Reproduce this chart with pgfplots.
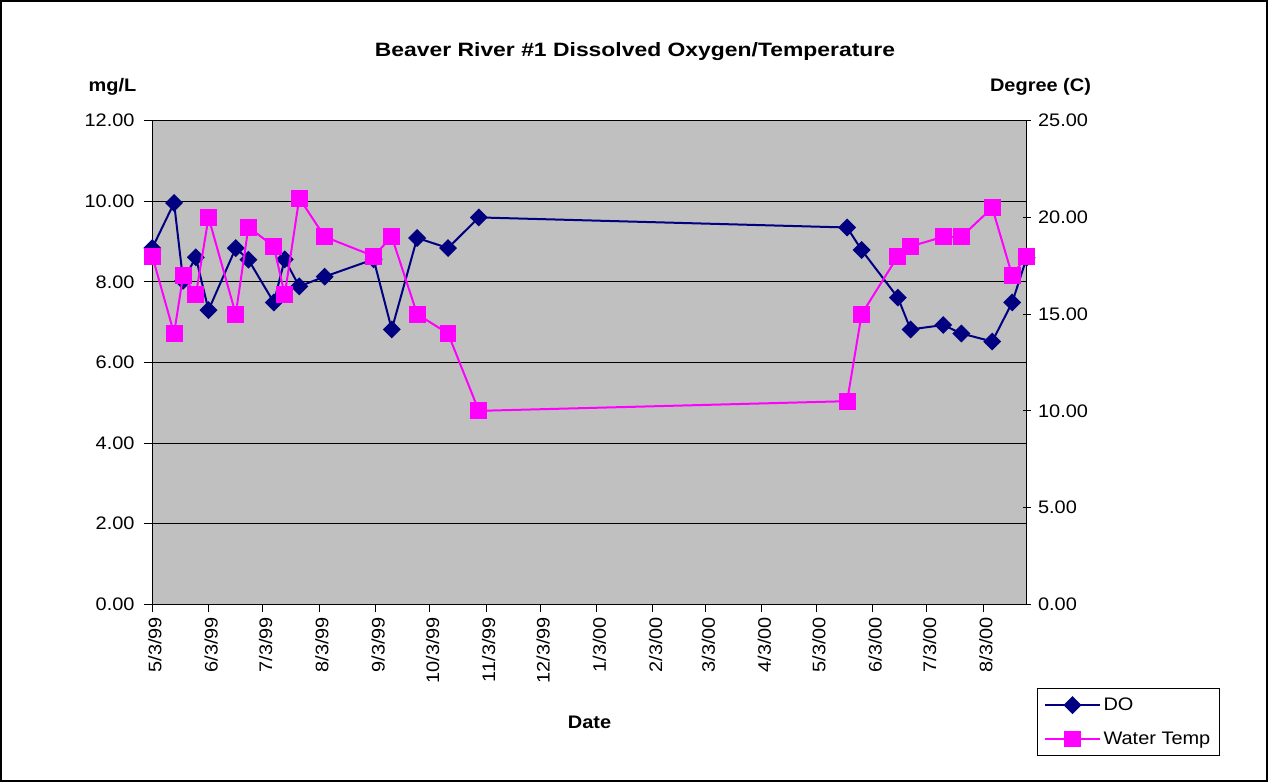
\documentclass[border=0pt]{standalone}
\usepackage{fontspec}
\setmainfont{Liberation Sans}[FakeStretch=1.1]
\usepackage{pgfplots}
\pgfplotsset{compat=1.18}
\definecolor{plotgray}{HTML}{C0C0C0}
\definecolor{donavy}{HTML}{000080}
\definecolor{tmag}{HTML}{FF00FF}
\newcommand{\lblfont}{\fontsize{13.6}{16}\selectfont}

\pgfplotstableread{
day do
0 8.84
12 9.96
17 8.03
24 8.61
31 7.30
46 8.84
53 8.55
67 7.49
73 8.56
81 7.89
95 8.13
122 8.56
132 6.82
146 9.09
163 8.84
180 9.60
383 9.35
391 8.79
411 7.61
418 6.82
436 6.93
446 6.72
463 6.52
474 7.49
482 8.60
}\dotable

\pgfplotstableread{
day temp
0 18
12 14
17 17
24 16
31 20
46 15
53 19.5
67 18.5
73 16
81 21
95 19
122 18
132 19
146 15
163 14
180 10
383 10.5
391 15
411 18
418 18.5
436 19
446 19
463 20.5
474 17
482 18
}\temptable

\pgfplotsset{
  common/.style={
    at={(114.225pt,133.275pt)}, anchor=south west,
    width=655.8pt, height=362.7pt, scale only axis,
    xmin=0, xmax=482,
    clip=false,
    tick label style={font=\lblfont},
    yticklabel style={/pgf/number format/fixed, /pgf/number format/fixed zerofill, /pgf/number format/precision=2, /pgf/number format/assume math mode=true},
    tick style={black, line width=0.75pt},
    major tick length=6pt,
  }
}

\begin{document}
\begin{tikzpicture}[x=0.75pt,y=0.75pt]
\useasboundingbox (0,0) rectangle (1268,782);
\fill[white] (0,0) rectangle (1268,782);
\draw[line width=1.5pt] (1,1) rectangle (1267,781);

\begin{axis}[common,
  ymin=0, ymax=12,
  axis background/.style={fill=plotgray},
  axis line style={black, line width=1pt},
  ytick={0,2,...,12},
  ymajorgrids, major grid style={black, line width=0.75pt},
  xtick={0,31,61,92,123,153,184,214,245,276,305,336,366,397,427,458},
  xticklabels={5/3/99,6/3/99,7/3/99,8/3/99,9/3/99,10/3/99,11/3/99,12/3/99,1/3/00,2/3/00,3/3/00,4/3/00,5/3/00,6/3/00,7/3/00,8/3/00},
  x tick label style={rotate=90, anchor=east, yshift=-2pt},
  y tick label style={xshift=-3.8pt},
  xtick pos=bottom, ytick pos=left,
  tick align=outside,
]
\addplot[donavy, line width=1.5pt, mark=square*, mark size=4pt, mark options={rotate=45, solid}] table[x=day, y=do] {\dotable};
\end{axis}

\begin{axis}[common,
  ymin=0, ymax=25,
  axis x line=none,
  axis y line*=right,
  axis line style={black, line width=1pt},
  ytick={0,5,...,25},
  y tick label style={xshift=2pt},
  tick align=center,
  legend style={at={(1.0118,-0.173)}, anchor=north west, draw=black, line width=0.75pt, font=\lblfont, fill=white, inner xsep=5pt, inner ysep=5pt, row sep=10.5pt},
  legend cell align=left,
  legend image code/.code={\draw[mark repeat=2, mark phase=2, #1] plot coordinates {(0pt,0pt) (20.5pt,0pt) (41pt,0pt)};},
]
\addlegendimage{donavy, line width=1.5pt, mark=square*, mark size=4pt, mark options={rotate=45, solid}}
\addlegendentry{DO}
\addplot[tmag, line width=1.5pt, mark=square*, mark size=5.6pt, mark options={solid}] table[x=day, y=temp] {\temptable};
\addlegendentry{Water Temp}
\end{axis}

\node[font=\fontsize{14.5}{17}\selectfont\bfseries] at (635,730) {\scalebox{1.077}[1]{Beaver River \#1 Dissolved Oxygen/Temperature}};
\node[font=\lblfont\bfseries] at (112.5,695) {mg/L};
\node[font=\lblfont\bfseries] at (1040.5,695) {Degree (C)};
\node[font=\lblfont\bfseries] at (589.5,60) {Date};
\end{tikzpicture}
\end{document}
